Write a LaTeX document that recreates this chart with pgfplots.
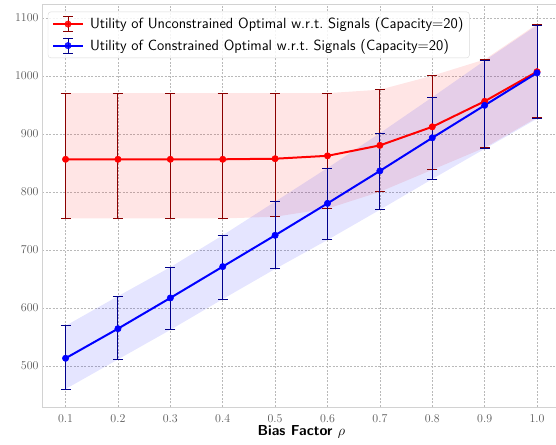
\documentclass[border=0pt]{standalone}
\usepackage{pgfplots}
\pgfplotsset{compat=1.18}
\usepackage{pgfplotstable}
\usepgfplotslibrary{fillbetween}
\definecolor{darkred}{RGB}{139,0,0}
\definecolor{darkblue}{RGB}{0,0,139}

\pgfplotstableread{
x mean hi lo
0.1 856 970 754
0.2 856 970 754
0.3 856 970 754
0.4 856 970 754
0.5 857 970 757
0.6 862 970 771
0.7 880 976 800
0.8 912 1000 838
0.9 956 1028 876
1.0 1007 1089 928
}\unc

\pgfplotstableread{
x mean hi lo
0.1 513 569 460
0.2 564 620 511
0.3 617 670 562
0.4 671 725 615
0.5 725 783 667
0.6 780 841 717
0.7 836 901 769
0.8 893 963 822
0.9 949 1026 874
1.0 1005 1087 926
}\con

\begin{document}
\begin{tikzpicture}
\begin{axis}[
  scale only axis,
  width=518.6bp, height=402bp,
  xmin=0.055, xmax=1.045, ymin=429, ymax=1122,
  xtick={0.1,0.2,0.3,0.4,0.5,0.6,0.7,0.8,0.9,1.0},
  ytick={500,600,700,800,900,1000,1100},
  xticklabel style={yshift=-4bp, /pgf/number format/fixed, /pgf/number format/fixed zerofill, /pgf/number format/precision=1},
  yticklabel style={/pgf/number format/fixed, /pgf/number format/1000 sep={}},
  tick label style={font=\fontsize{12.5}{14}\selectfont, text=black!65},
  major tick length=0pt,
  grid=major,
  major grid style={gray!55, line width=0.5bp, dash pattern=on 2bp off 1.5bp},
  axis line style={gray!35, line width=1bp},
  xlabel={\sffamily\bfseries Bias Factor $\rho$},
  xlabel style={font=\fontsize{14.5}{16}\selectfont, yshift=4bp},
  legend style={at={(0.0116,0.983)}, anchor=north west, draw=gray!30,
    rounded corners=3bp, fill=white, fill opacity=0.85, text opacity=1,
    font=\sffamily\fontsize{14.8}{17}\selectfont, row sep=5bp, column sep=4bp,
    outer sep=0pt, inner xsep=4bp, inner ysep=4bp},
  legend cell align=left,
]
% bands
\addplot[name path=ru, draw=none, forget plot] table[x=x, y=hi] {\unc};
\addplot[name path=rl, draw=none, forget plot] table[x=x, y=lo] {\unc};
\addplot[fill=red, fill opacity=0.1, draw=none, forget plot] fill between[of=ru and rl];
\addplot[name path=bu, draw=none, forget plot] table[x=x, y=hi] {\con};
\addplot[name path=bl, draw=none, forget plot] table[x=x, y=lo] {\con};
\addplot[fill=blue, fill opacity=0.1, draw=none, forget plot] fill between[of=bu and bl];

% red error bars + line
\addplot[draw=none, mark=none, forget plot,
  error bars/.cd, y dir=both, y explicit,
  error bar style={draw=darkred, line width=1bp},
  error mark options={rotate=90, draw=darkred, line width=1bp, mark size=5bp}]
  table[x=x, y=mean, y error plus expr=\thisrow{hi}-\thisrow{mean}, y error minus expr=\thisrow{mean}-\thisrow{lo}] {\unc};
\addplot[red, line width=2bp, mark=*, mark size=3.2bp, mark options={fill=red, draw=red, line width=0.5bp}, forget plot]
  table[x=x, y=mean] {\unc};

% blue error bars + line
\addplot[draw=none, mark=none, forget plot,
  error bars/.cd, y dir=both, y explicit,
  error bar style={draw=darkblue, line width=1bp},
  error mark options={rotate=90, draw=darkblue, line width=1bp, mark size=5bp}]
  table[x=x, y=mean, y error plus expr=\thisrow{hi}-\thisrow{mean}, y error minus expr=\thisrow{mean}-\thisrow{lo}] {\con};
\addplot[blue, line width=2bp, mark=*, mark size=3.2bp, mark options={fill=blue, draw=blue, line width=0.5bp}, forget plot]
  table[x=x, y=mean] {\con};

\addlegendimage{legend image code/.code={
  \draw[red, line width=2bp] (0bp,0bp) -- (30bp,0bp);
  \draw[darkred, line width=1bp] (15bp,-7.5bp) -- (15bp,7.5bp);
  \draw[darkred, line width=1bp] (10bp,-7.5bp) -- (20bp,-7.5bp);
  \draw[darkred, line width=1bp] (10bp,7.5bp) -- (20bp,7.5bp);
  \fill[red] (15bp,0bp) circle (3.2bp);
}}
\addlegendentry{Utility of Unconstrained Optimal w.r.t.\ Signals (Capacity=20)}
\addlegendimage{legend image code/.code={
  \draw[blue, line width=2bp] (0bp,0bp) -- (30bp,0bp);
  \draw[darkblue, line width=1bp] (15bp,-7.5bp) -- (15bp,7.5bp);
  \draw[darkblue, line width=1bp] (10bp,-7.5bp) -- (20bp,-7.5bp);
  \draw[darkblue, line width=1bp] (10bp,7.5bp) -- (20bp,7.5bp);
  \fill[blue] (15bp,0bp) circle (3.2bp);
}}
\addlegendentry{Utility of Constrained Optimal w.r.t.\ Signals (Capacity=20)}
\end{axis}
\pgfresetboundingbox
\useasboundingbox (-42bp,-38bp) rectangle (514bp,407bp);
\end{tikzpicture}
\end{document}
